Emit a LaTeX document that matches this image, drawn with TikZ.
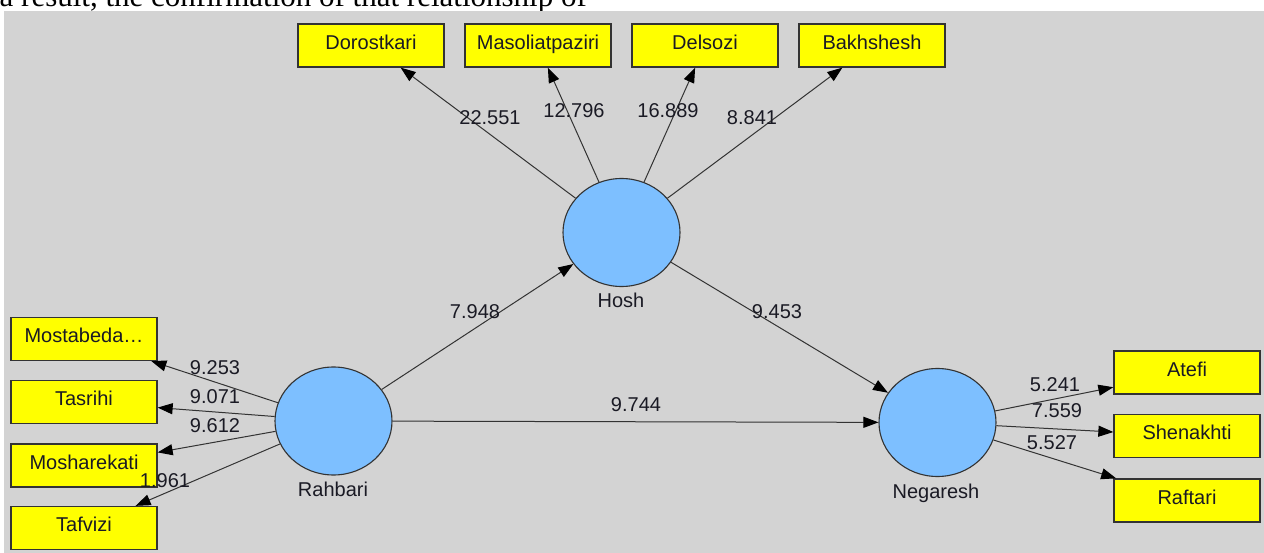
\documentclass[tikz,border=0pt]{standalone}
\usepackage{fontspec}
\setmainfont{Liberation Sans}
\newfontfamily\bodyserif{Liberation Serif}
\usetikzlibrary{arrows.meta,shapes.geometric}

\definecolor{panelgray}{HTML}{D3D3D3}
\definecolor{lvblue}{HTML}{7DBFFF}
\definecolor{indyellow}{HTML}{FFFF00}
\definecolor{edgegray}{HTML}{333333}
\definecolor{inkdark}{HTML}{1A1A24}

\tikzset{
  indbox/.style={rectangle, draw=edgegray, line width=1.3pt, fill=indyellow,
    minimum width=146, minimum height=43, inner sep=0pt,
    text height=14.3pt, text depth=7pt, text=inkdark,
    font=\fontsize{20}{24}\selectfont},
  latent/.style={ellipse, draw=edgegray, line width=1.1pt, fill=lvblue,
    minimum width=117, minimum height=108, inner sep=0pt},
  lvname/.style={inner sep=0pt, text height=14.3pt, text depth=0pt,
    text=inkdark, font=\fontsize{20}{24}\selectfont},
  coef/.style={inner sep=0pt, text height=14.3pt, text depth=0pt,
    text=inkdark, font=\fontsize{20}{24}\selectfont},
  link/.style={draw=edgegray, line width=1pt,
    -{Triangle[length=15pt,width=11pt,color=black]}}
}

\begin{document}
\begin{tikzpicture}[x=1pt,y=-1pt]
  \useasboundingbox (0,0) rectangle (1264,553);
  \fill[white] (0,0) rectangle (1264,553);

  % running text of the page above the figure
  \begin{scope}
    \clip (0,0) rectangle (1264,11);
    \node[anchor=base west, inner sep=0pt, font=\bodyserif\fontsize{31}{36}\selectfont]
      (pagetext) at (-0.5,6.5) {a result, the confirmation of that relationship of};
  \end{scope}

  % figure panel
  \fill[panelgray] (4,11) rectangle (1264,553);

  % latent variables
  \node[latent] (hosh) at (621.5,232.5) {};
  \node[latent] (rahbari) at (333.5,421) {};
  \node[latent] (negaresh) at (937.5,422.5) {};
  \node[lvname] (hoshname) at (621,300) {Hosh};
  \node[lvname] (rahbariname) at (333,489) {Rahbari};
  \node[lvname] (negareshname) at (936,491) {Negaresh};

  % indicators of Hosh
  \node[indbox] (dor) at (371,45.5) {Dorostkari};
  \node[indbox] (mas) at (538,45.5) {Masoliatpaziri};
  \node[indbox] (del) at (705,45.5) {Delsozi};
  \node[indbox] (bak) at (872,45.5) {Bakhshesh};

  % indicators of Rahbari
  \node[indbox] (mos) at (84,339) {Mostabeda…\hspace{12pt}};
  \node[indbox] (tas) at (84,402) {Tasrihi};
  \node[indbox] (msh) at (84,465.5) {Mosharekati};
  \node[indbox] (taf) at (84,528) {Tafvizi};

  % indicators of Negaresh
  \node[indbox] (ate) at (1187,372.5) {Atefi};
  \node[indbox] (she) at (1187,436) {Shenakhti};
  \node[indbox] (raf) at (1187,500.5) {Raftari};

  % outer model
  \draw[link] (hosh) -- (dor);
  \draw[link] (hosh) -- (mas);
  \draw[link] (hosh) -- (del);
  \draw[link] (hosh) -- (bak);
  \draw[link] (rahbari) -- (mos);
  \draw[link] (rahbari) -- (tas);
  \draw[link] (rahbari) -- (msh);
  \draw[link] (rahbari) -- (taf);
  \draw[link] (negaresh) -- (ate);
  \draw[link] (negaresh) -- (she);
  \draw[link] (negaresh) -- (raf);

  % inner model
  \draw[link] (rahbari) -- (hosh);
  \draw[link] (hosh) -- (negaresh);
  \draw[link] (rahbari) -- (negaresh);

  % t-values
  \node[coef] (t1) at (490,117) {22.551};
  \node[coef] (t2) at (574,110) {12.796};
  \node[coef] (t3) at (668,110) {16.889};
  \node[coef] (t4) at (752,117) {8.841};
  \node[coef] (t5) at (475,311) {7.948};
  \node[coef] (t6) at (777,311) {9.453};
  \node[coef] (t7) at (636,404) {9.744};
  \node[coef] (t8) at (215,367) {9.253};
  \node[coef] (t9) at (215,396) {9.071};
  \node[coef] (t10) at (215,425) {9.612};
  \node[coef] (t11) at (165,480) {1.961};
  \node[coef] (t12) at (1055,384) {5.241};
  \node[coef] (t13) at (1057,410) {7.559};
  \node[coef] (t14) at (1052,442) {5.527};
\end{tikzpicture}
\end{document}
